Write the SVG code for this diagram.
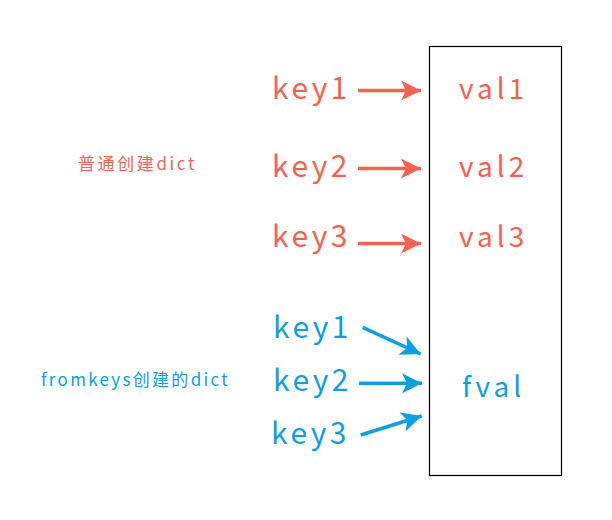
<svg xmlns="http://www.w3.org/2000/svg" width="612" height="520" viewBox="0 0 612 520">
<defs>
<style>
text{font-family:"Noto Sans CJK SC","Noto Sans",sans-serif;}
.r{fill:#f96050;}
.b{fill:#0c9fe3;}
.key{font-size:30px;letter-spacing:3.5px;}
.val{font-size:28px;letter-spacing:4px;}
.lbl{font-size:17px;letter-spacing:2.6px;}
.ar{stroke:#f96050;stroke-width:3.5;fill:none;}
.ab{stroke:#0c9fe3;stroke-width:3.5;fill:none;}
</style>
<marker id="mr" markerUnits="userSpaceOnUse" viewBox="0 0 20 20" refX="20" refY="10" markerWidth="20" markerHeight="20" orient="auto"><path d="M0,0 L20,10 L0,20 L5,10 Z" fill="#f96050"/></marker>
<marker id="mb" markerUnits="userSpaceOnUse" viewBox="0 0 20 20" refX="20" refY="10" markerWidth="20" markerHeight="20" orient="auto"><path d="M0,0 L20,10 L0,20 L5,10 Z" fill="#0c9fe3"/></marker>
</defs>
<rect width="612" height="520" fill="#fff"/>
<g id="box"><rect x="429.5" y="46.5" width="132" height="429" fill="none" stroke="#000" stroke-width="1.2"/></g>
<g id="label-normal"><text class="lbl r" x="78" y="169.5">普通创建dict</text></g>
<g id="label-fromkeys"><text class="lbl b" x="41" y="385.5" style="letter-spacing:2.3px">fromkeys创建的dict</text></g>
<g id="key1-r"><text class="key r" x="272" y="99">key1</text></g>
<g id="key2-r"><text class="key r" x="272" y="177">key2</text></g>
<g id="key3-r"><text class="key r" x="272" y="247">key3</text></g>
<g id="val1"><text class="val r" x="459" y="99">val1</text></g>
<g id="val2"><text class="val r" x="459" y="177">val2</text></g>
<g id="val3"><text class="val r" x="459" y="247">val3</text></g>
<g id="key1-b"><text class="key b" x="273" y="338">key1</text></g>
<g id="key2-b"><text class="key b" x="273" y="391">key2</text></g>
<g id="key3-b"><text class="key b" x="271" y="444">key3</text></g>
<g id="fval"><text class="val b" x="462" y="397">fval</text></g>
<g id="connectors">
<line class="ar" x1="358" y1="90.5" x2="421" y2="90.5" marker-end="url(#mr)"/>
<line class="ar" x1="358" y1="168.5" x2="421" y2="168.5" marker-end="url(#mr)"/>
<line class="ar" x1="358" y1="243.5" x2="421" y2="243.5" marker-end="url(#mr)"/>
<line class="ab" x1="362.7" y1="327.3" x2="420.7" y2="354" marker-end="url(#mb)"/>
<line class="ab" x1="359" y1="383.3" x2="422" y2="383.3" marker-end="url(#mb)"/>
<line class="ab" x1="360.7" y1="435" x2="421.7" y2="416" marker-end="url(#mb)"/>
</g>
</svg>
